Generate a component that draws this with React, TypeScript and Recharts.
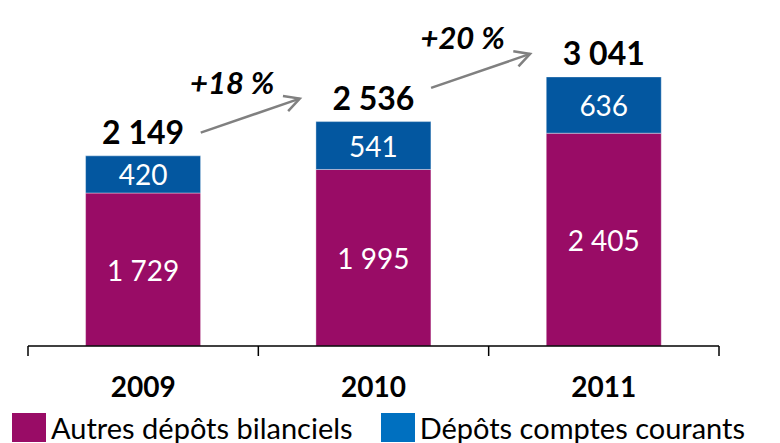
import React from 'react';
import { BarChart, Bar, XAxis, YAxis, Legend, LabelList } from 'recharts';

// Chart values
const YEARS = ['2009', '2010', '2011'];
const AUTRES_DEPOTS = [1729, 1995, 2405];
const DEPOTS_COURANTS = [420, 541, 636];
const SERIES_NAMES = ['Autres dépôts bilanciels', 'Dépôts comptes courants'];

const MAGENTA = '#990C66';
const BLUE = '#0357A0';
const LEGEND_COLORS = [MAGENTA, '#0070C0'];
const ARROW_GREY = '#808080';
const FONT = 'Lato, "Open Sans", sans-serif';

const WIDTH = 780;
const HEIGHT = 443;
const MARGIN = { top: 54, right: 61, bottom: 37, left: 28 };
const BAND = (WIDTH - MARGIN.left - MARGIN.right) / YEARS.length;

const data = YEARS.map((year, i) => ({
  year,
  autres: AUTRES_DEPOTS[i],
  courants: DEPOTS_COURANTS[i],
  total: AUTRES_DEPOTS[i] + DEPOTS_COURANTS[i],
}));

// "1729" -> "1 729"
const fmt = (v: number) => String(v).replace(/\B(?=(\d{3})+(?!\d))/g, ' ');

const box = (props: any) => {
  const vb = props.viewBox && props.viewBox.width !== undefined ? props.viewBox : props;
  return { x: Number(vb.x), y: Number(vb.y), width: Number(vb.width), height: Number(vb.height) };
};

const renderInner = (props: any) => {
  const { x, y, width, height } = box(props);
  return (
    <text
      x={x + width / 2}
      y={y + height / 2}
      textAnchor="middle"
      dominantBaseline="central"
      fill="#fff"
      fontFamily={FONT}
      fontSize={28}
    >
      {fmt(Number(props.value))}
    </text>
  );
};

// Total above each stack, plus the growth arrow towards the next year
const renderTotal = (props: any) => {
  const { x, y, width, height } = box(props);
  const i = Number(props.index);
  const cx = x + width / 2;
  const row = data[i];
  const next = data[i + 1];

  let arrow = null;
  if (next) {
    const k = height / row.courants; // px per unit, taken from the bar the library drew
    const zeroY = y + k * row.total;
    const nextTop = zeroY - k * next.total;
    const mx = cx + BAND / 2 - 8;
    const my = nextTop - 6;
    const dx = 99;
    const dy = -34;
    const sx = mx - dx / 2;
    const sy = my - dy / 2;
    const ex = mx + dx / 2;
    const ey = my + dy / 2;
    const len = Math.hypot(dx, dy);
    const ux = -dx / len;
    const uy = -dy / len;
    const a = (28 * Math.PI) / 180;
    const arm = 17;
    const rot = (s: number) => [
      ex + arm * (ux * Math.cos(s * a) - uy * Math.sin(s * a)),
      ey + arm * (ux * Math.sin(s * a) + uy * Math.cos(s * a)),
    ];
    const [ax1, ay1] = rot(1);
    const [ax2, ay2] = rot(-1);
    const pct = Math.round((next.total / row.total - 1) * 100);
    arrow = (
      <g>
        <line x1={sx} y1={sy} x2={ex} y2={ey} stroke={ARROW_GREY} strokeWidth={2.5} />
        <polyline
          points={`${ax1},${ay1} ${ex},${ey} ${ax2},${ay2}`}
          fill="none"
          stroke={ARROW_GREY}
          strokeWidth={2.5}
        />
        <text
          x={mx - 18}
          y={my - 34}
          textAnchor="middle"
          dominantBaseline="central"
          fontFamily={FONT}
          fontWeight="bold"
          fontStyle="italic"
          fontSize={31}
          fill="#000"
        >
          {`+${pct} %`}
        </text>
      </g>
    );
  }

  return (
    <g>
      <text
        x={cx}
        y={y - 12}
        textAnchor="middle"
        fontFamily={FONT}
        fontWeight="bold"
        fontSize={32}
        fill="#000"
      >
        {fmt(row.total)}
      </text>
      {arrow}
    </g>
  );
};

// Year label in the middle, tick marks on the category edges
const renderYearTick = (props: any) => {
  const { x, y, payload, index } = props;
  const last = index === YEARS.length - 1;
  return (
    <g>
      <line x1={x - BAND / 2} y1={y} x2={x - BAND / 2} y2={y + 10} stroke="#000" strokeWidth={1.5} />
      {last && <line x1={x + BAND / 2} y1={y} x2={x + BAND / 2} y2={y + 10} stroke="#000" strokeWidth={1.5} />}
      <text
        x={x}
        y={y + 51}
        textAnchor="middle"
        fontFamily={FONT}
        fontWeight="bold"
        fontSize={28}
        fill="#000"
      >
        {payload.value}
      </text>
    </g>
  );
};

const renderLegend = () => (
  <div
    style={{
      display: 'flex',
      alignItems: 'center',
      fontFamily: FONT,
      fontSize: 29,
      lineHeight: '29px',
      color: '#000',
      whiteSpace: 'nowrap',
    }}
  >
    {SERIES_NAMES.map((name, i) => (
      <div key={name} style={{ display: 'flex', alignItems: 'center', marginRight: 28 }}>
        <span
          style={{
            display: 'inline-block',
            width: 34,
            height: 29,
            background: LEGEND_COLORS[i],
            marginRight: 5,
          }}
        />
        <span>{name}</span>
      </div>
    ))}
  </div>
);

const App: React.FC = () => {
  return (
    <div style={{ position: 'absolute', left: 0, top: 0, width: WIDTH, height: HEIGHT, background: '#fff' }}>
      <BarChart width={WIDTH} height={HEIGHT} data={data} margin={MARGIN} barCategoryGap="25%">
        <XAxis
          dataKey="year"
          axisLine={{ stroke: '#000', strokeWidth: 1.5 }}
          tickLine={false}
          tickSize={0}
          tickMargin={0}
          height={60}
          interval={0}
          tick={renderYearTick}
        />
        <YAxis hide domain={[0, 3300]} allowDataOverflow />
        <Legend
          verticalAlign="middle"
          align="center"
          layout="horizontal"
          content={renderLegend}
          wrapperStyle={{ left: 12, top: 413, width: 'auto' }}
        />
        <Bar
          dataKey="autres"
          name={SERIES_NAMES[0]}
          stackId="a"
          fill={MAGENTA}
          stroke="#fff"
          strokeOpacity={0.5}
          strokeWidth={0.75}
          isAnimationActive={false}
        >
          <LabelList dataKey="autres" content={renderInner} />
        </Bar>
        <Bar
          dataKey="courants"
          name={SERIES_NAMES[1]}
          stackId="a"
          fill={BLUE}
          stroke="#fff"
          strokeOpacity={0.5}
          strokeWidth={0.75}
          isAnimationActive={false}
        >
          <LabelList dataKey="courants" content={renderInner} />
          <LabelList dataKey="total" content={renderTotal} />
        </Bar>
      </BarChart>
    </div>
  );
};

export default App;
